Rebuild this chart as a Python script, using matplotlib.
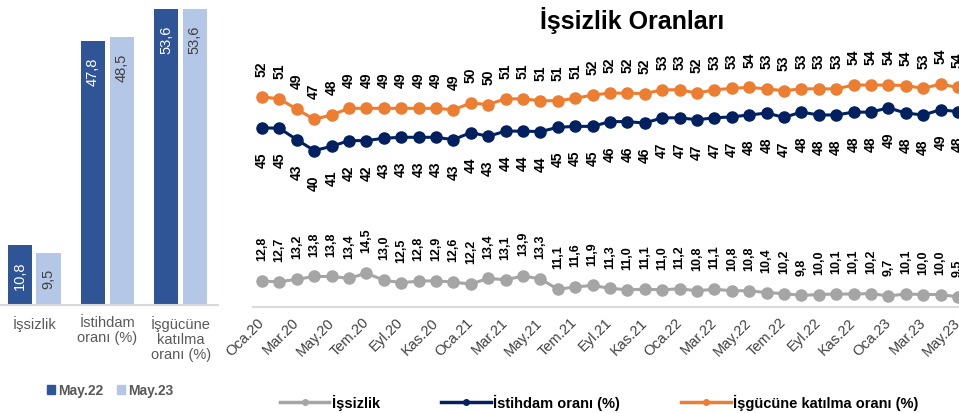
import matplotlib
matplotlib.use("Agg")
import matplotlib.pyplot as plt
import matplotlib.transforms as mtransforms
from matplotlib.lines import Line2D
from matplotlib.patches import Patch
import numpy as np

plt.rcParams["font.family"] = ["Liberation Sans", "DejaVu Sans"]

# --- data ---
bar_categories = ["İşsizlik", "İstihdam\noranı (%)", "İşgücüne\nkatılma\noranı (%)"]
bar_may22 = [10.8, 47.8, 53.6]
bar_may23 = [9.5, 48.5, 53.6]

months = ["Oca", "Şub", "Mar", "Nis", "May", "Haz", "Tem", "Ağu", "Eyl", "Eki", "Kas", "Ara"]
periods = [f"{months[m]}.{y}" for y in ("20", "21", "22", "23") for m in range(12)][:41]

unemployment = [12.8, 12.7, 13.2, 13.8, 13.8, 13.4, 14.5, 13.0, 12.5, 12.8, 12.9, 12.6,
                12.2, 13.4, 13.1, 13.9, 13.3, 11.1, 11.6, 11.9, 11.3, 11.0, 11.1, 11.0,
                11.2, 10.8, 11.1, 10.8, 10.8, 10.4, 10.2, 9.8, 10.0, 10.1, 10.1, 10.2,
                9.7, 10.1, 10.0, 10.0, 9.5]
employment = [45.1, 45.0, 42.6, 40.3, 41.2, 42.4, 42.4, 42.9, 43.1, 43.1, 43.1, 42.6,
              44.1, 43.3, 44.4, 44.4, 44.3, 45.2, 45.4, 45.4, 46.4, 46.4, 46.1, 47.2,
              47.2, 46.8, 47.2, 47.4, 47.8, 48.2, 47.3, 48.4, 47.8, 47.8, 48.4, 48.4,
              49.3, 48.2, 47.8, 48.9, 48.5]
participation = [51.6, 51.2, 49.0, 46.9, 47.8, 49.2, 49.2, 49.2, 49.2, 49.2, 49.2, 48.9,
                 50.3, 50.0, 51.2, 51.2, 50.8, 50.8, 51.3, 52.0, 52.4, 52.4, 52.3, 53.1,
                 53.1, 52.4, 53.1, 53.4, 53.6, 53.3, 52.9, 53.3, 53.3, 53.3, 54.1, 54.1,
                 54.1, 54.0, 53.4, 54.3, 53.6]

DARK = "#2F5597"
LIGHT = "#B4C7E7"
GRAY = "#A5A5A5"
NAVY = "#002060"
ORANGE = "#ED7D31"
AXIS = "#D9D9D9"
TXT = "#595959"

W, H = 959, 414
fig = plt.figure(figsize=(W / 100, H / 100), dpi=100)


def px_axes(left, top, right, bottom):
    return fig.add_axes([left / W, 1 - bottom / H, (right - left) / W, (bottom - top) / H])


# --- left: bar comparison ---
axb = px_axes(0, 0, 218, 306)
x = np.arange(len(bar_categories))
off, bw = 0.195, 0.33
b1 = axb.bar(x - off, bar_may22, bw, color=DARK)
b2 = axb.bar(x + off, bar_may23, bw, color=LIGHT)
for bars, vals, col in ((b1, bar_may22, "white"), (b2, bar_may23, "#404040")):
    for rect, v in zip(bars, vals):
        axb.annotate(f"{v:.1f}".replace(".", ","), (rect.get_x() + rect.get_width() / 2, v),
                     xytext=(0, -11), textcoords="offset points", rotation=90,
                     ha="center", va="top", color=col, fontsize=10.5)
axb.set_xlim(-0.466, 2.51)
axb.set_ylim(0, 55.4)
axb.set_yticks([])
axb.set_xticks(x)
axb.set_xticklabels(bar_categories, color=TXT, fontsize=10.5, linespacing=1.1)
axb.tick_params(axis="x", length=0, pad=7)
for s in ("top", "right", "left"):
    axb.spines[s].set_visible(False)
axb.spines["bottom"].set_color(AXIS)
axb.spines["bottom"].set_linewidth(1.5)

fig.legend(handles=[Patch(color=DARK, label="May.22"), Patch(color=LIGHT, label="May.23")],
           loc="center", bbox_to_anchor=(110 / W, 1 - 391 / H), ncol=2, frameon=False,
           handlelength=0.6, handleheight=0.6, handletextpad=0.2, columnspacing=1.0,
           prop={"size": 10, "weight": "bold"}, labelcolor=TXT)

# --- right: monthly lines ---
ax = px_axes(253.3, 30, W, 308)
idx = np.arange(len(periods))
for vals, col in ((unemployment, GRAY), (employment, NAVY), (participation, ORANGE)):
    ax.plot(idx, vals, color=col, lw=2.2, marker="o", ms=8, clip_on=False)

for i in idx:
    ax.annotate(f"{participation[i]:.0f}", (i, participation[i]), xytext=(0, 15),
                textcoords="offset points", rotation=90, ha="center", va="bottom",
                fontsize=10, fontweight="bold")
    ax.annotate(f"{employment[i]:.0f}", (i, employment[i]), xytext=(0, -17),
                textcoords="offset points", rotation=90, ha="center", va="top",
                fontsize=10, fontweight="bold")
    ax.annotate(f"{unemployment[i]:.1f}".replace(".", ","), (i, unemployment[i]), xytext=(0, 15),
                textcoords="offset points", rotation=90, ha="center", va="bottom",
                fontsize=9, fontweight="bold")

ax.set_xlim(-0.5, 40.06)
ax.set_ylim(7.37, 65.9)
ax.set_yticks([])
ax.set_xticks(idx[::2])
shift = mtransforms.ScaledTranslation(5 / 100, 0, fig.dpi_scale_trans)
for lab in ax.set_xticklabels(periods[::2], rotation=45, ha="right", va="center",
                              rotation_mode="anchor", fontsize=10.5, color="#404040"):
    lab.set_transform(lab.get_transform() + shift)
ax.tick_params(axis="x", length=0, pad=9)
for s in ("top", "right", "left"):
    ax.spines[s].set_visible(False)
ax.spines["bottom"].set_color(AXIS)
ax.spines["bottom"].set_linewidth(1.5)

fig.text(632 / W, 1 - 20 / H, "İşsizlik Oranları", ha="center", va="center",
         fontsize=18, fontweight="bold")

handles = [Line2D([], [], color=c, lw=2.5, marker="o", ms=4) for c in (GRAY, NAVY, ORANGE)]
fig.legend(handles, ["İşsizlik", "İstihdam oranı (%)", "İşgücüne katılma oranı (%)"],
           loc="center", bbox_to_anchor=(599 / W, 1 - 403 / H), ncol=3, frameon=False,
           handlelength=3.4, handletextpad=0.15, columnspacing=4.2,
           prop={"weight": "bold", "size": 10.5})

fig.savefig("out.png", dpi=100)
